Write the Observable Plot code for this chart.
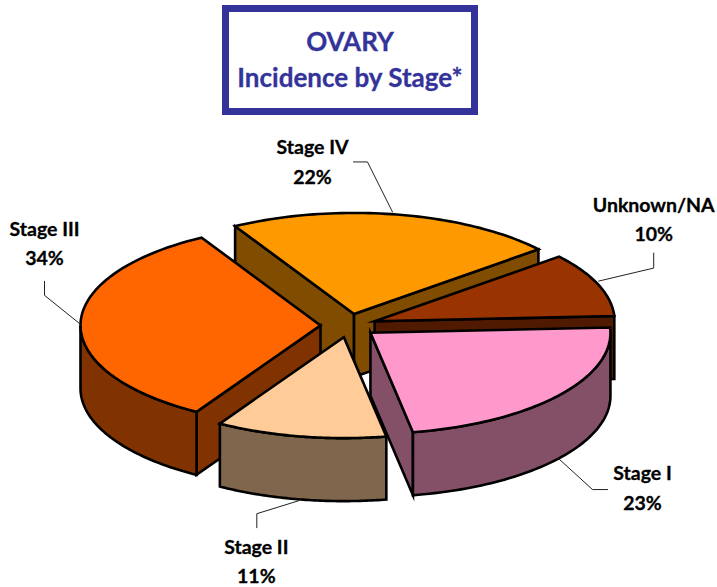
<!DOCTYPE html>
<html><head><meta charset="utf-8">
<script src="https://cdn.jsdelivr.net/npm/d3@7"></script>
<script src="https://cdn.jsdelivr.net/npm/@observablehq/plot@0.6"></script>
<style>
html,body{margin:0;padding:0;background:#fff}
#title{box-sizing:border-box;position:absolute;left:222px;top:5px;width:256px;height:110px;border:7px solid #333399;color:#333399;
font:bold 26px Lato,sans-serif;text-align:center;line-height:36px;padding-top:11px;-webkit-text-stroke:.3px #333399;white-space:nowrap}
#chart{position:absolute;left:0;top:118px}
svg{display:block}
</style></head><body>
<div id="title">OVARY<br>Incidence by Stage*</div>
<div id="chart"></div>
<script>
// Data, clockwise from the right-hand side
const stages = ["Stage I", "Stage II", "Stage III", "Stage IV", "Unknown/NA"];
const shares = [23, 11, 34, 22, 10];
const topColors = ["#FF99CC", "#FFCC99", "#FF6600", "#FF9900", "#993300"];
const sideColors = ["#845068", "#80664D", "#803300", "#804D00", "#4F1A00"];
// Back-to-front painting order
const paintOrder = [3, 4, 2, 1, 0];
// Pie projection; the nudge stands in for the reference's 3D perspective, which shifts slice boundaries slightly
const cx = 348, cy = 325, rx = 240, ry = 101, depth = 63, explode = 28, startAngle = -3;
const boundaryNudge = [0, 1.7, -1.5, -0.8, 0];
// Label layout: elbow and text offsets from the leader's start on the rim
const startNudge = [[0, 0], [-5, 1], [0, 0], [-9, -3], [0, -4]];
const elbowOffset = [[34, 31], [-47, 14], [-36, -29], [-34, -53], [55, -17]];
const endOffset = [[49, 31], [-47, 28], [-36, -43], [-48, -53], [55, -32]];
const textOffset = [[84, 27], [-47.5, 59.5], [-36, -83], [-89, -55.5], [55, -68]];

const rad = d => d * Math.PI / 180;
const total = d3.sum(shares);
let running = startAngle;
const slices = stages.map((name, i) => {
  const a0 = running, b0 = running + shares[i] / total * 360;
  running = b0;
  const a = a0 + (i ? boundaryNudge[i - 1] : 0), b = b0 + boundaryNudge[i];
  const mid = (a0 + b0) / 2;
  const ax = cx + explode * Math.cos(rad(mid)), ay = cy + explode * ry / rx * Math.sin(rad(mid));
  const rim = (t, dz = 0) => ({x: ax + rx * Math.cos(rad(t)), y: ay + ry * Math.sin(rad(t)) + dz});
  return {name, i, a, b, mid, ax, ay, rim};
});
const arc = (s, t0, t1, dz = 0) => d3.range(0, 61).map(k => s.rim(t0 + (t1 - t0) * k / 60, dz));
const poly = (pts, fill) => Plot.line(pts, {
  x: "x", y: "y", fill, stroke: "black", strokeWidth: 2.6, curve: "linear-closed",
  strokeLinejoin: "miter", strokeMiterlimit: 8
});
const marks = [];
for (const i of paintOrder) {
  const s = slices[i], apex = {x: s.ax, y: s.ay}, apexLow = {x: s.ax, y: s.ay + depth};
  const face = t => [apex, s.rim(t), s.rim(t, depth), apexLow];
  if (Math.cos(rad(s.a)) < 0) marks.push(poly(face(s.a), sideColors[i]));
  if (Math.cos(rad(s.b)) > 0) marks.push(poly(face(s.b), sideColors[i]));
  const w0 = Math.max(s.a, 0), w1 = Math.min(s.b, 180);
  if (w1 > w0) marks.push(poly([...arc(s, w0, w1), ...arc(s, w1, w0, depth)], sideColors[i]));
  marks.push(poly([apex, ...arc(s, s.a, s.b)], topColors[i]));
}
// Leaders start on the rim at mid-angle, on the wall's lower edge where the wall is in front
const labels = slices.map(s => {
  const p = s.rim(s.mid, Math.sin(rad(s.mid)) > 0.05 ? depth : 0);
  const [ex, ey] = elbowOffset[s.i], [fx, fy] = endOffset[s.i], [tx, ty] = textOffset[s.i], [nx, ny] = startNudge[s.i];
  return {
    leader: [{x: p.x + nx, y: p.y + ny}, {x: p.x + ex, y: p.y + ey}, {x: p.x + fx, y: p.y + fy}],
    x: p.x + tx, y: p.y + ty, text: `${s.name}\n${shares[s.i]}%`
  };
});
for (const l of labels) marks.push(Plot.line(l.leader, {x: "x", y: "y", stroke: "#222", strokeWidth: 1}));
marks.push(Plot.text(labels, {
  x: "x", y: "y", text: "text", fill: "black", stroke: "black", strokeWidth: 0.3, fontWeight: "bold", fontSize: 19.5,
  fontFamily: "Lato, sans-serif", lineHeight: 1.51, textAnchor: "middle"
}));
const chart = Plot.plot({
  width: 717, height: 469, margin: 0,
  x: {domain: [0, 717], range: [0, 717], axis: null},
  y: {domain: [118, 587], range: [0, 469], axis: null},
  marks
});
document.getElementById("chart").append(chart);
</script>
</body></html>
